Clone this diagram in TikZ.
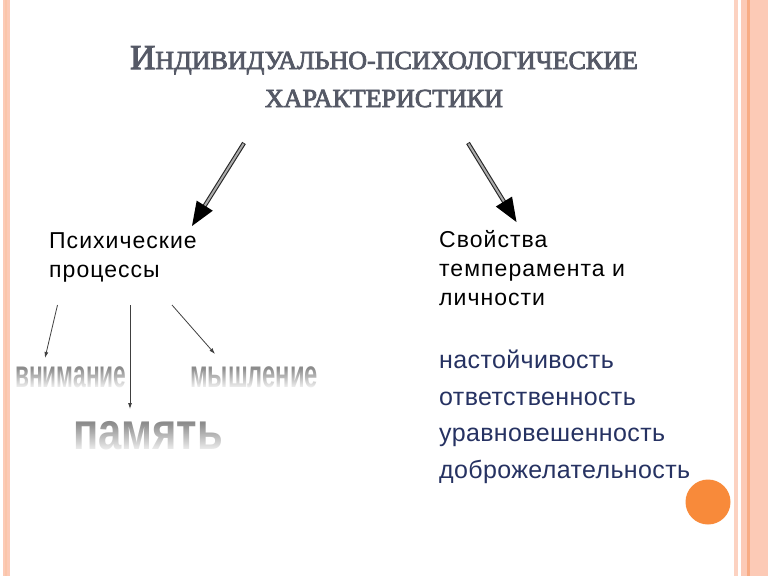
\documentclass[tikz,border=0pt]{standalone}
\usepackage{fontspec}
\setmainfont{Liberation Serif}
\newfontfamily\arialf{Liberation Sans}
\newfontfamily\headf[LetterSpace=4.5]{Liberation Sans}
\newfontfamily\listf[LetterSpace=1.5]{Liberation Sans}
\newfontfamily\titlef[FakeBold=3]{Liberation Serif}
\usetikzlibrary{arrows.meta,fadings,calc}
\definecolor{titlec}{RGB}{85,89,102}
\definecolor{bluec}{RGB}{38,50,98}
\definecolor{peach}{RGB}{252,202,182}
\definecolor{peachd}{RGB}{248,172,132}
\definecolor{orangec}{RGB}{248,138,58}
\definecolor{wordgray}{RGB}{140,140,140}
\tikzfading[name=fadedown, top color=transparent!100, bottom color=transparent!0]
\tikzset{
  heading/.style={font=\headf\fontsize{23}{29}\selectfont, text=black, align=left, inner sep=0pt, anchor=base west},
  bluelist/.style={font=\listf\fontsize{25}{36.5}\selectfont, text=bluec, align=left, inner sep=0pt, anchor=base west},
  word/.style={font=\arialf\bfseries, text=wordgray, inner sep=0pt, anchor=base west},
  bigshaft/.style={line width=4.2pt, black!85},
  biginner/.style={line width=2pt, gray!65},
  smallarrow/.style={-{Latex[length=6pt,width=4pt]}, line width=0.8pt, black!75}
}
\begin{document}
\begin{tikzpicture}[x=1pt,y=-1pt]
\useasboundingbox (0,0) rectangle (768,576);
\fill[white] (0,0) rectangle (768,576);
% side stripes
\fill[peach] (2.5,0) rectangle (9.5,576);
\fill[peachd!70] (4.5,0) rectangle (7,576);
\fill[peach!85] (733.5,0) rectangle (737.5,576);
\fill[peach] (741,0) rectangle (768,576);
\fill[peachd] (747,0) rectangle (750,576);
% title
\node[inner sep=0pt, anchor=base, text=titlec, font=\titlef] (title1) at (384,69)
  {{\fontsize{35}{37}\selectfont И}{\fontsize{26}{28}\selectfont НДИВИДУАЛЬНО-ПСИХОЛОГИЧЕСКИЕ}};
\node[inner sep=0pt, anchor=base, text=titlec, font=\titlef\fontsize{26}{28}\selectfont] (title2) at (384,107)
  {ХАРАКТЕРИСТИКИ};
% headings
\node[heading] (proc) at (49,277) {Психические\\процессы};
\node[heading] (svoj) at (439,305) {Свойства\\темперамента и\\личности};
\node[bluelist] (list) at (439,478) {настойчивость\\ответственность\\уравновешенность\\доброжелательность};
% faded words
\node[word, font=\arialf\bfseries\fontsize{25}{25}\selectfont] (vn) at (15,387) {\scalebox{0.91}[1.55]{внимание}};
\node[word, font=\arialf\bfseries\fontsize{25}{25}\selectfont] (my) at (190,387) {\scalebox{0.95}[1.55]{мышление}};
\node[word, font=\arialf\bfseries\fontsize{36}{36}\selectfont] (pa) at (73,449) {\scalebox{1.16}[1.45]{память}};
\fill[white, path fading=fadedown] (10,368) rectangle (130,390);
\fill[white, path fading=fadedown] (185,368) rectangle (325,390);
\fill[white, path fading=fadedown] (68,423) rectangle (228,454);
% big arrows
\coordinate (t1) at (244,143);
\coordinate (p1) at (192,226);
\coordinate (t2) at (468,143);
\coordinate (p2) at (516.5,222);
\foreach \a/\b in {t1/p1, t2/p2}{
  \draw[bigshaft, shorten >=20pt] (\a) -- (\b);
  \draw[biginner, shorten >=20pt, shorten <=0.8pt] (\a) -- (\b);
  \coordinate (base) at ($(\b)!24pt!(\a)$);
  \fill[black] (\b) -- ($(base)!9.5pt!90:(\b)$) -- ($(base)!9.5pt!-90:(\b)$) -- cycle;
}
% small arrows
\coordinate (s1a) at (57.5,305);
\coordinate (s1b) at (45,358);
\coordinate (s2a) at (130,305);
\coordinate (s2b) at (130,409);
\coordinate (s3a) at (172,305);
\coordinate (s3b) at (215,354);
\draw[smallarrow] (s1a) -- (s1b);
\draw[smallarrow] (s2a) -- (s2b);
\draw[smallarrow] (s3a) -- (s3b);
% orange dot
\fill[orangec] (708,502) circle (22.5);
\end{tikzpicture}
\end{document}
